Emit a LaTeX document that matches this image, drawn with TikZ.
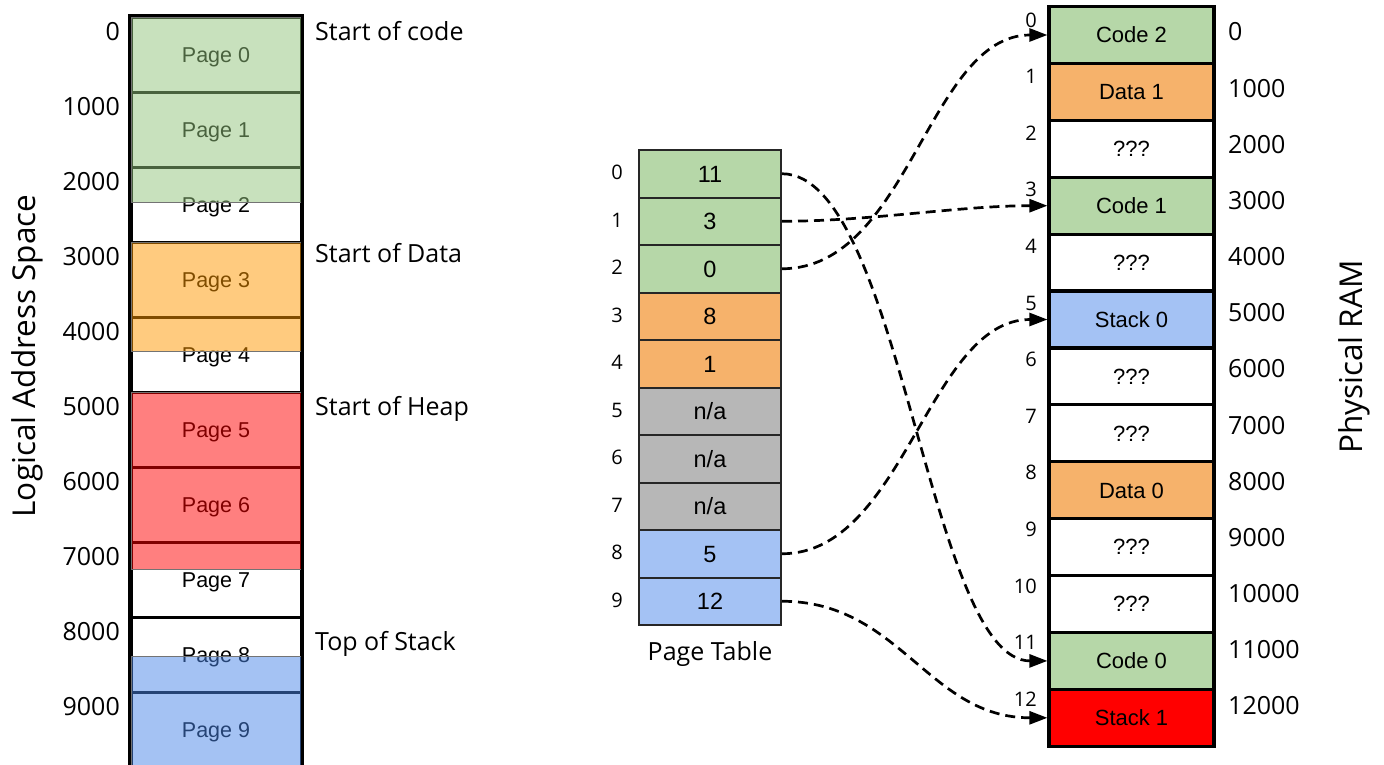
\documentclass[tikz,border=0pt]{standalone}
\usepackage{fontspec}
\setmainfont{Open Sans}
\newfontfamily\arialf{Liberation Sans}
\usetikzlibrary{arrows.meta}
\definecolor{ovgreen}{HTML}{93C47D}
\definecolor{ovorange}{HTML}{FF9900}
\definecolor{ovred}{HTML}{FF0000}
\definecolor{ovblue}{HTML}{4A86E8}
\definecolor{cgreen}{HTML}{B6D7A8}
\definecolor{corange}{HTML}{F6B26B}
\definecolor{cgray}{HTML}{B7B7B7}
\definecolor{cblue}{HTML}{A4C2F4}
\definecolor{cred}{HTML}{FF0000}
\begin{document}
\begin{tikzpicture}[x=1pt,y=-1pt,
  pagebox/.style={rectangle, draw=black, line width=3pt, fill=white,
    minimum width=170pt, minimum height=75pt, inner sep=0pt,
    font=\arialf\fontsize{21.5}{21.5}\selectfont, text height=15.4pt, text depth=0pt},
  ptrow/.style={rectangle, draw=black!85, line width=2pt,
    minimum width=142pt, minimum height=47.5pt, inner sep=0pt,
    font=\arialf\fontsize{23.5}{23.5}\selectfont, text height=16.8pt, text depth=0pt},
  ramrow/.style={rectangle, draw=black, line width=3.2pt,
    minimum width=165pt, minimum height=56.9pt, inner sep=0pt,
    font=\arialf\fontsize{22}{22}\selectfont, text height=15.75pt, text depth=0pt},
  biglab/.style={inner sep=0pt, font=\fontsize{25}{25}\selectfont, text height=17.85pt, text depth=0pt},
  smalllab/.style={inner sep=0pt, font=\fontsize{20}{20}\selectfont, text height=14.3pt, text depth=0pt},
  titlelab/.style={inner sep=0pt, font=\fontsize{31.5}{31.5}\selectfont, rotate=90, anchor=base},
  tint/.style={fill opacity=0.5, draw=black!55, line width=0.9pt, draw opacity=1},
  conn/.style={line width=2.7pt, dash pattern=on 10pt off 6pt, -{Triangle[length=18pt,width=13pt]}}
]
\useasboundingbox (0,0) rectangle (1384,764);

% ---------- Logical address space ----------
\foreach \i in {0,...,9}
  \node[pagebox] (lp\i) at (216,{54.5+75*\i}) {Page \i};
\filldraw[tint, fill=ovgreen]  (131,17)  rectangle (301,202);
\filldraw[tint, fill=ovorange] (131,242) rectangle (301,351);
\filldraw[tint, fill=ovred]    (131,392) rectangle (301,569);
\filldraw[tint, fill=ovblue]   (131,656) rectangle (301,767);
\draw[line width=2.6pt] (lp0.north west) rectangle (lp9.south east);

\foreach \a [count=\k from 0] in {0,1000,2000,3000,4000,5000,6000,7000,8000,9000}
  \node[biglab, anchor=east] (la\k) at (120,{32+75*\k}) {\a};

\node[biglab, anchor=west] (sc) at (315,31.5) {Start of code};
\node[biglab, anchor=west] (sd) at (315,253.5) {Start of Data};
\node[biglab, anchor=west] (sh) at (315,406.5) {Start of Heap};
\node[biglab, anchor=west] (ts) at (315,642) {Top of Stack};

\node[titlelab] (lastitle) at (35,356) {Logical Address Space};

% ---------- Page table ----------
\foreach \i/\v/\c in {0/11/cgreen,1/3/cgreen,2/0/cgreen,3/8/corange,4/1/corange,
                      5/n\slash a/cgray,6/n\slash a/cgray,7/n\slash a/cgray,8/5/cblue,9/12/cblue}{
  \node[ptrow, fill=\c] (p\i) at (710,{173.75+47.5*\i}) {\v};
  \node[smalllab, anchor=east] (pi\i) at (623,{172.75+47.5*\i}) {\i};
}
\node[biglab] (pttitle) at (710,652) {Page Table};

% ---------- Physical RAM ----------
\foreach \i/\t/\c in {0/Code 2/cgreen,1/Data 1/corange,2/???/white,3/Code 1/cgreen,
                      4/???/white,5/Stack 0/cblue,6/???/white,7/???/white,8/Data 0/corange,
                      9/???/white,10/???/white,11/Code 0/cgreen,12/Stack 1/cred}{
  \node[ramrow, fill=\c] (r\i) at (1131.5,{35+56.9*\i}) {\t};
  \node[smalllab, anchor=east] (ri\i) at (1037,{20+56.6*\i}) {\i};
}
\foreach \a [count=\k from 0] in {0,1000,2000,3000,4000,5000,6000,7000,8000,9000,10000,11000,12000}
  \node[biglab, anchor=west] (ra\k) at (1228,{32+56.17*\k}) {\a};

\node[titlelab] (ramtitle) at (1362,357) {Physical RAM};

% ---------- Mappings ----------
\draw[conn] (p0.east) .. controls +(119,0) and +(-119,0) .. (r11.west);
\draw[conn] (p1.east) .. controls +(89,0) and +(-89,0) .. (r3.west);
\draw[conn] (p2.east) .. controls +(127,0) and +(-119,0) .. (r0.west);
\draw[conn] (p8.east) .. controls +(122,0) and +(-119,0) .. (r5.west);
\draw[conn] (p9.east) .. controls +(118,0) and +(-119,0) .. (r12.west);
\end{tikzpicture}
\end{document}
